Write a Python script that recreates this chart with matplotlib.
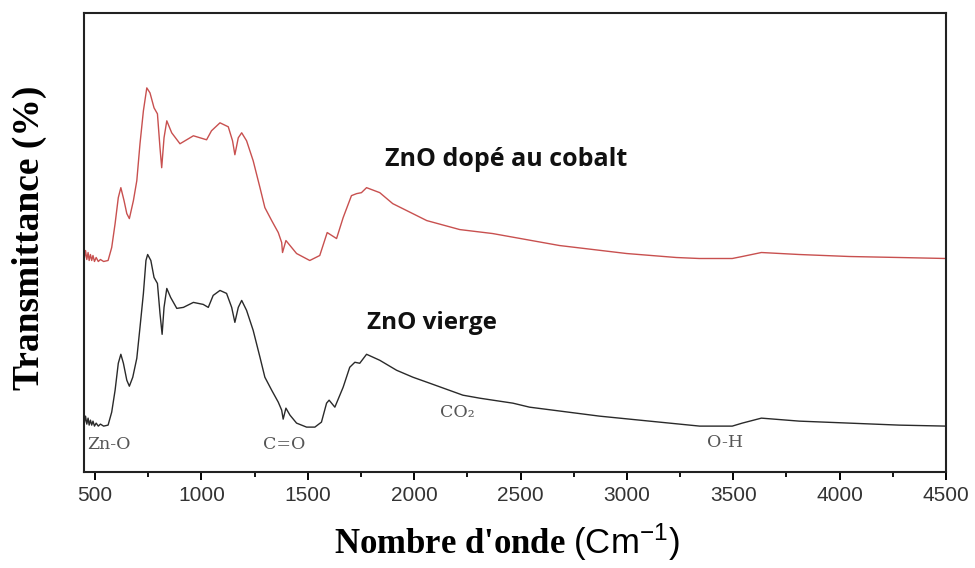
import matplotlib
matplotlib.use('Agg')
import matplotlib.pyplot as plt
from matplotlib.ticker import MultipleLocator

# wavenumbers (cm-1) and transmittance (arb. units)
# ZnO vierge (black)
wn_pure = [448, 455, 461, 467, 472, 478, 484, 490, 497, 505, 515, 525, 540, 561,
           578, 594, 609, 621, 633, 649, 661, 677, 696, 711, 727, 739, 747, 762,
           777, 793, 805, 815, 824, 837, 855, 884, 915, 962, 1008, 1032, 1055,
           1087, 1118, 1142, 1157, 1173, 1189, 1212, 1243, 1275, 1298, 1330, 1361,
           1377, 1384, 1397, 1416, 1447, 1494, 1533, 1564, 1588, 1600, 1627, 1666,
           1697, 1721, 1744, 1776, 1838, 1917, 1994, 2073, 2151, 2229, 2308, 2370,
           2464, 2542, 2871, 3106, 3342, 3495, 3542, 3632, 3810, 4045, 4279, 4500]
t_pure = [47, 56, 48, 54, 47, 52, 47, 51, 46, 49, 46, 48, 46, 47,
          60, 82, 109, 118, 109, 92, 86, 95, 114, 145, 179, 212, 218, 212,
          195, 189, 159, 138, 165, 184, 175, 164, 165, 170, 168, 165, 177,
          182, 179, 165, 150, 165, 172, 162, 142, 115, 95, 82, 70,
          62, 53, 64, 57, 49, 45, 45, 50, 69, 72, 65, 85,
          105, 110, 109, 118, 112, 102, 95, 89, 83, 77, 74, 72,
          69, 65, 56, 51, 46, 46, 49, 54, 51, 49, 47, 46]

# ZnO dopé au cobalt (red)
wn_co = [448, 455, 461, 467, 472, 478, 484, 490, 497, 505, 515, 525, 540, 561,
         578, 594, 609, 621, 636, 649, 661, 680, 696, 711, 727, 743, 758, 777,
         793, 805, 813, 824, 837, 860, 899, 962, 1024, 1047, 1087, 1126, 1146,
         1157, 1173, 1189, 1212, 1243, 1275, 1298, 1330, 1361, 1377, 1381, 1397,
         1447, 1509, 1556, 1591, 1635, 1666, 1705, 1729, 1752, 1776, 1838, 1899,
         2059, 2214, 2369, 2683, 2998, 3232, 3340, 3495, 3542, 3632, 3810, 4045,
         4279, 4500]
t_co = [212, 222, 213, 220, 212, 218, 212, 217, 211, 215, 211, 213, 211, 212,
        225, 249, 275, 285, 272, 259, 254, 272, 292, 329, 362, 385, 380, 365,
        359, 325, 305, 335, 352, 340, 329, 337, 333, 342, 350, 346, 332,
        318, 335, 340, 332, 312, 285, 265, 252, 240, 230, 220, 232,
        219, 212, 217, 240, 234, 255, 277, 279, 280, 285, 280, 269,
        252, 243, 239, 227, 219, 215, 214, 214, 216, 220, 218, 216,
        215, 214]

# band labels: text, x (cm-1), y
bands = ['Zn-O', 'C=O', 'CO\u2082', 'O-H']
band_x = [462, 1289, 2120, 3378]
band_y = [28, 28, 60, 30]

plt.rcParams['mathtext.fontset'] = 'custom'
plt.rcParams['mathtext.sf'] = 'Liberation Sans'
plt.rcParams['mathtext.rm'] = 'Liberation Serif:bold'

fig = plt.figure(figsize=(9.75, 5.68), dpi=100)
ax = fig.add_axes([0.0862, 0.1690, 0.8841, 0.8080])

ax.plot(wn_co, t_co, color='#c8504f', lw=1.0)
ax.plot(wn_pure, t_pure, color='#2a2a2a', lw=1.0)

ax.text(1862, 313, 'ZnO dopé au cobalt', fontsize=18, fontweight='bold',
        family='Open Sans', color='#111111', va='center')
ax.text(1777, 149, 'ZnO vierge', fontsize=17.5, fontweight='bold',
        family='Open Sans', color='#111111', va='center')
for lab, bx, by in zip(bands, band_x, band_y):
    ax.text(bx, by, lab, fontsize=12.5, family=['DejaVu Serif'],
            color='#555555', va='center')

ax.set_xlim(448, 4500)
ax.set_ylim(0, 460)
ax.xaxis.set_major_locator(MultipleLocator(500))
ax.xaxis.set_minor_locator(MultipleLocator(250))
ax.tick_params(axis='x', which='major', direction='out', length=6, width=1.4,
               labelsize=15, labelcolor='#333333', pad=4)
ax.tick_params(axis='x', which='minor', direction='out', length=3.5, width=1.3)
for lbl in ax.get_xticklabels():
    lbl.set_family('Liberation Sans')
ax.set_yticks([])
for sp in ax.spines.values():
    sp.set_linewidth(1.5)
    sp.set_color('#222222')

ax.set_ylabel('Transmittance (%)', fontsize=27, fontweight='bold',
              family='Liberation Serif')
ax.yaxis.set_label_coords(-0.043, 0.51)
ax.set_xlabel(r"Nombre d'onde $\mathsf{(Cm^{-1})}$", fontsize=25, fontweight='bold',
              family='Liberation Serif')
ax.xaxis.set_label_coords(0.49, -0.108)

fig.savefig('out.png', dpi=100)
